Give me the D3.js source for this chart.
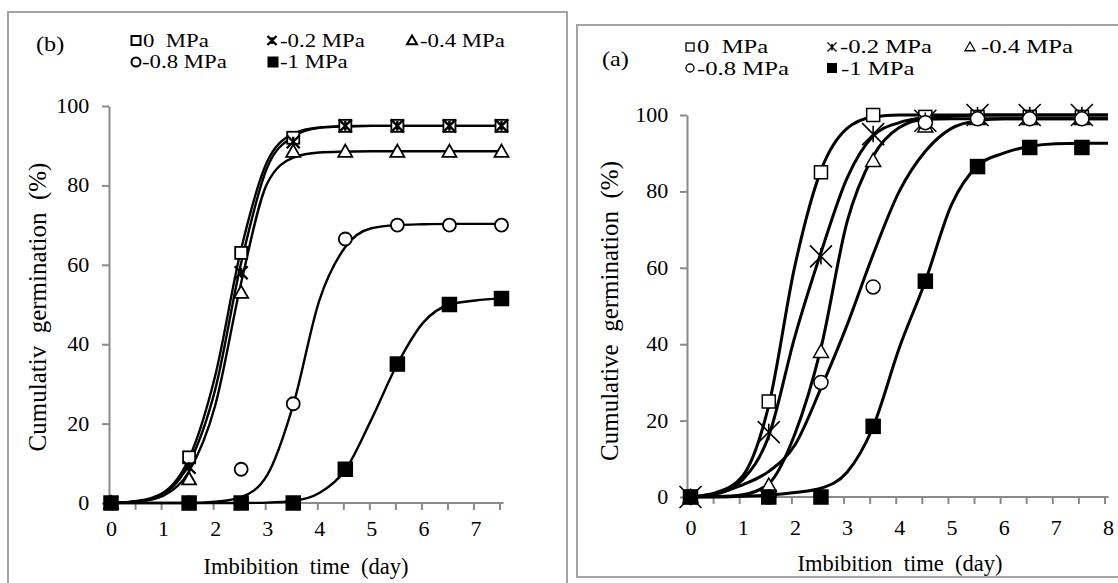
<!DOCTYPE html>
<html>
<head>
<meta charset="utf-8">
<script src="https://cdn.jsdelivr.net/npm/d3@7"></script>
<style>
  body { margin: 0; background: #fff; }
  svg { display: block; }
  text { font-family: "Liberation Serif", Tinos, "Times New Roman", Times, "DejaVu Serif", serif; fill: #000; white-space: pre; }
</style>
</head>
<body>
<div id="chart"></div>
<script>
// ---- data ----
const obsDays = [0, 1.5, 2.5, 3.5, 4.5, 5.5, 6.5, 7.5];
const fitDaysB = [0, 0.5, 1, 1.5, 2, 2.5, 3, 3.5, 4, 4.5, 5, 5.5, 6, 6.5, 7, 7.5];
const fitDaysA = [0, 0.5, 1, 1.5, 2, 2.5, 3, 3.5, 4, 4.5, 5, 5.5, 6, 6.5, 7, 7.5, 8];

const seriesLabels = ["0  MPa", "-0.2 MPa", "-0.4 MPa", "-0.8 MPa", "-1 MPa"];
const markerTypes = ["square", "star", "triangle", "circle", "filled"];

// panel (b): observed points
const obsB0 = [0, 11.5, 63, 92, 95, 95, 95, 95];
const obsB02 = [0, 9, 58, 91, 95, 95, 95, 95];
const obsB04 = [0, 6, 53, 88.5, 88.5, 88.5, 88.5, 88.5];
const obsB08 = [0, 0, 8.5, 25, 66.5, 70, 70, 70];
const obsB1 = [0, 0, 0, 0, 8.5, 35, 50, 51.5];
// panel (b): fitted curves
const fitB0 = [0, 0.5, 2.6, 11.3, 32, 64, 86, 93, 94.6, 94.9, 95, 95, 95, 95, 95, 95];
const fitB02 = [0, 0.4, 2.2, 10, 28.5, 60.5, 84.5, 92.3, 94.5, 94.9, 95, 95, 95, 95, 95, 95];
const fitB04 = [0, 0.3, 1.8, 8, 24.5, 55.5, 80.5, 87, 88.3, 88.5, 88.6, 88.6, 88.6, 88.6, 88.6, 88.6];
const fitB08 = [0, 0, 0, 0, 0.3, 1.5, 7, 24.7, 51, 64.5, 69.2, 70, 70.2, 70.3, 70.3, 70.3];
const fitB1 = [0, 0, 0, 0, 0, 0, 0.1, 0.5, 2.5, 8.3, 21, 35, 45.5, 50, 51, 51.6];

// panel (a): observed points
const obsA0 = [0, 25, 85, 100, 99.5, 99.5, 99.5, 99.5];
const obsA02 = [0, 17, 63, 95, 98.5, 100, 100, 100];
const obsA04 = [0, 3, 38, 88, 97, 99, 99, 99];
const obsA08 = [0, 0, 30, 55, 98, 99, 99, 99];
const obsA1 = [0, 0, 0, 18.5, 56.5, 86.5, 91.5, 91.5];
// panel (a): fitted curves
const fitA0 = [0, 1.2, 5.5, 24, 60.5, 85.5, 96.5, 99.5, 100, 100, 100, 100, 100, 100, 100, 100, 100];
const fitA02 = [0, 0.8, 4.5, 16, 42, 64, 83.5, 94.5, 98, 99.3, 99.7, 100, 100, 100, 100, 100, 100];
const fitA04 = [0, 0.1, 0.6, 3.5, 16.5, 39, 72, 89.2, 96.7, 98.9, 99, 99, 99, 99, 99, 99, 99];
const fitA08 = [0, 1, 3.2, 6.7, 13.6, 28.5, 45, 63.5, 80, 90.5, 96.5, 98.5, 99, 99, 99, 99, 99];
const fitA1 = [0, 0, 0.2, 0.5, 1.2, 2.3, 6.5, 18.4, 39, 56.5, 76.5, 86.7, 90, 91.8, 92.5, 92.6, 92.6];

const yTicks = [0, 20, 40, 60, 80, 100];
const xTickMarksB = [0, 0.5, 1, 1.5, 2, 2.5, 3, 3.5, 4, 4.5, 5, 5.5, 6, 6.5, 7, 7.5];
const xTickMarksA = [0, 0.5, 1, 1.5, 2, 2.5, 3, 3.5, 4, 4.5, 5, 5.5, 6, 6.5, 7, 7.5, 8];

const AXIS_COLOR = "#8a8a8a";
const SERIF = '"Liberation Serif", Tinos, "Times New Roman", Times, "DejaVu Serif", serif';

function drawMarker(sel, type, s, sw) {
  const h = s / 2;
  if (type === "square" || type === "filled") {
    sel.append("rect")
      .attr("x", -h).attr("y", -h).attr("width", s).attr("height", s)
      .attr("fill", type === "filled" ? "#000" : "#fff")
      .attr("stroke", "#000").attr("stroke-width", sw);
  } else if (type === "circle") {
    sel.append("circle").attr("r", h)
      .attr("fill", "#fff").attr("stroke", "#000").attr("stroke-width", sw);
  } else if (type === "triangle") {
    sel.append("path")
      .attr("d", `M0,${-h} L${h},${h * 0.75} L${-h},${h * 0.75} Z`)
      .attr("fill", "#fff").attr("stroke", "#000").attr("stroke-width", sw);
  } else if (type === "star") {
    const v = h * 0.75;
    sel.append("path")
      .attr("d", `M${-h},${-h}L${h},${h}M${-h},${h}L${h},${-h}M0,${-v}L0,${v}`)
      .attr("fill", "none").attr("stroke", "#000").attr("stroke-width", sw);
  }
}

class GerminationPanel {
  constructor(_config, series) {
    this.config = _config;
    this.series = series;
    this.initVis();
  }

  initVis() {
    let vis = this;
    const c = vis.config;

    vis.g = c.svg.append("g");

    // outer frame of the panel
    vis.g.append("rect")
      .attr("x", c.frame.x).attr("y", c.frame.y)
      .attr("width", c.frame.w).attr("height", c.frame.h)
      .attr("fill", "none").attr("stroke", "#a3a3a3").attr("stroke-width", 2);

    vis.x = d3.scaleLinear().domain([0, c.xMax]).range([c.plot.left, c.plot.right]);
    vis.y = d3.scaleLinear().domain([0, 100]).range([c.plot.bottom, c.plot.top]);

    // y axis
    const yAxis = d3.axisLeft(vis.y)
      .tickValues(yTicks)
      .tickSize(7)
      .tickSizeOuter(0)
      .tickPadding(c.yPad);
    vis.g.append("g")
      .attr("transform", `translate(${vis.x(0) - c.shift},0)`)
      .call(yAxis)
      .attr("font-family", SERIF)
      .call((g) => g.select(".domain").attr("stroke", AXIS_COLOR).attr("stroke-width", 2))
      .call((g) => g.selectAll(".tick line").attr("stroke", AXIS_COLOR).attr("stroke-width", 2))
      .call((g) => g.selectAll(".tick text")
        .attr("transform", "scale(1.1,1)")
        .style("font-size", "20px"));

    // x axis (ticks every half day, labels on whole days)
    const xAxis = d3.axisBottom(vis.x)
      .tickValues(c.xTickMarks)
      .tickSize(7)
      .tickSizeOuter(0)
      .tickPadding(c.xPad)
      .tickFormat((d) => (Number.isInteger(d) ? d : ""));
    vis.g.append("g")
      .attr("transform", `translate(${-c.shift},${vis.y(0)})`)
      .call(xAxis)
      .attr("font-family", SERIF)
      .call((g) => g.select(".domain").remove())
      .call((g) => g.selectAll(".tick line").attr("stroke", AXIS_COLOR).attr("stroke-width", 2))
      .call((g) => g.selectAll(".tick text")
        .attr("x", c.shift / 1.1)
        .attr("transform", "scale(1.1,1)")
        .style("font-size", "20px"));
    vis.g.append("line")
      .attr("x1", vis.x(0) - c.shift)
      .attr("x2", vis.x(c.xMax) - c.shift + 4)
      .attr("y1", vis.y(0)).attr("y2", vis.y(0))
      .attr("stroke", AXIS_COLOR).attr("stroke-width", 2);

    // axis titles
    vis.g.append("text")
      .attr("x", c.xTitle[0]).attr("y", c.xTitle[1])
      .attr("text-anchor", "middle")
      .style("font-size", "22.5px")
      .text("Imbibition  time  (day)");
    vis.g.append("text")
      .attr("transform", `translate(${c.yTitle[0]},${c.yTitle[1]}) rotate(-90)`)
      .attr("text-anchor", "middle")
      .style("font-size", "25px")
      .text(c.yTitleText);

    // panel letter
    vis.g.append("text")
      .attr("transform", `translate(${c.letterPos[0]},${c.letterPos[1]}) scale(1.1,1)`)
      .style("font-size", "22px")
      .text(c.letter);

    vis.line = d3.line()
      .x((d) => vis.x(d[0]))
      .y((d) => vis.y(d[1]))
      .curve(d3.curveMonotoneX);

    vis.renderVis();
  }

  renderVis() {
    let vis = this;
    const c = vis.config;

    // fitted curves
    vis.g.append("g")
      .selectAll("path")
      .data(vis.series)
      .join("path")
      .attr("d", (s) => vis.line(c.fitDays.map((d, i) => [d, s.fit[i]])))
      .attr("fill", "none")
      .attr("stroke", "#000")
      .attr("stroke-width", c.lineWidth);

    // observed points
    vis.series.forEach((s) => {
      const ms = c.markerSize[s.marker];
      vis.g.append("g")
        .selectAll("g")
        .data(obsDays.map((d, i) => [d, s.obs[i]]))
        .join("g")
        .attr("transform", (d) => `translate(${vis.x(d[0])},${vis.y(d[1])})`)
        .each(function () {
          drawMarker(d3.select(this), s.marker, ms[0], ms[1]);
        });
    });

    // legend
    vis.series.forEach((s, i) => {
      const p = c.legend[i];
      const lm = c.legendMarker[s.marker];
      const mg = vis.g.append("g").attr("transform", `translate(${p[0]},${p[1]})`);
      drawMarker(mg, s.marker, lm[0], lm[1]);
      vis.g.append("text")
        .attr("transform", `translate(${p[2]},${p[3]}) scale(${c.legendScale},1)`)
        .style("font-size", "19px")
        .text(s.label);
    });
  }
}

const svg = d3.select("#chart").append("svg")
  .attr("width", 1118).attr("height", 583);
svg.append("rect").attr("width", 1118).attr("height", 583).attr("fill", "#fff");

const seriesB = [obsB0, obsB02, obsB04, obsB08, obsB1].map((obs, i) => ({
  label: seriesLabels[i],
  marker: markerTypes[i],
  obs: obs,
  fit: [fitB0, fitB02, fitB04, fitB08, fitB1][i],
}));
const seriesA = [obsA0, obsA02, obsA04, obsA08, obsA1].map((obs, i) => ({
  label: seriesLabels[i],
  marker: markerTypes[i],
  obs: obs,
  fit: [fitA0, fitA02, fitA04, fitA08, fitA1][i],
}));

new GerminationPanel({
  svg: svg,
  letter: "(b)",
  letterPos: [36, 51],
  frame: { x: 8, y: 12, w: 559, h: 600 },
  plot: { left: 111, right: 501.5, top: 106, bottom: 503 },
  xMax: 7.5,
  xTickMarks: xTickMarksB,
  fitDays: fitDaysB,
  shift: 2,
  yPad: 11,
  xPad: 12,
  xTitle: [306, 574],
  yTitle: [46, 307],
  yTitleText: "Cumulativ  germination  (%)",
  lineWidth: 2.4,
  legendScale: 1.2,
  markerSize: { square: [12, 1.8], star: [13, 2.4], triangle: [14, 1.8], circle: [13, 1.8], filled: [14, 1.5] },
  legendMarker: { square: [9, 2], star: [9, 2.4], triangle: [10, 2], circle: [9, 2], filled: [10, 1] },
  legend: [
    [136, 40.5, 143, 47],
    [272, 40.5, 280, 47],
    [412, 40.5, 420, 47],
    [136, 62, 142, 68],
    [273, 62, 280, 68],
  ],
}, seriesB);

new GerminationPanel({
  svg: svg,
  letter: "(a)",
  letterPos: [602, 66],
  frame: { x: 577, y: 25, w: 600, h: 552 },
  plot: { left: 690.5, right: 1108, top: 115, bottom: 497 },
  xMax: 8,
  xTickMarks: xTickMarksA,
  fitDays: fitDaysA,
  shift: 3.5,
  yPad: 10,
  xPad: 17,
  xTitle: [900, 571],
  yTitle: [618, 311],
  yTitleText: "Cumulative  germination  (%)",
  lineWidth: 3,
  legendScale: 1.3,
  markerSize: { square: [13, 1.5], star: [22, 1.6], triangle: [15, 1.5], circle: [14, 1.5], filled: [14, 1.5] },
  legendMarker: { square: [8, 1.3], star: [9, 1.3], triangle: [10, 1.3], circle: [8, 1.3], filled: [9, 1] },
  legend: [
    [690, 47, 697, 53],
    [832, 47, 840, 53],
    [970, 47, 981, 53],
    [690, 68, 697, 75],
    [832, 68, 841, 75],
  ],
}, seriesA);
</script>
</body>
</html>
